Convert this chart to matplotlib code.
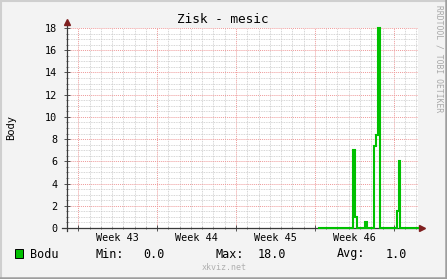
import numpy as np
import matplotlib
matplotlib.use("Agg")
import matplotlib.pyplot as plt
from matplotlib.lines import Line2D
from matplotlib.patches import Rectangle

# data (x in days from left edge of the graph)
t_days = [22.35, 25.38, 25.55, 25.73, 26.44, 26.62, 27.24, 27.42, 27.60, 27.77, 29.28, 29.46, 29.59, 31.15]
bodu = [0.0, 7.0, 1.0, 0.0, 0.5, 0.0, 7.4, 8.4, 18.0, 0.0, 1.5, 6.0, 0.0, 0.0]
week_starts = [1, 8, 15, 22, 29]
week_names = ["Week 43", "Week 44", "Week 45", "Week 46"]
legend_name = "Bodu"
stat_min, stat_max, stat_avg = 0.0, 18.0, 1.0

W, H = 447, 279
MONO = "DejaVu Sans Mono"
BACK = "#f3f3f3"
GREEN = "#00c000"
AXIS = "#3a3a3a"
ARROW = "#7f1f1f"

fig = plt.figure(figsize=(W / 100, H / 100), dpi=100)
fig.patch.set_facecolor(BACK)

# plot area in pixels: x 67..418, y 28..228
ax = fig.add_axes([67 / W, (H - 228) / H, (418 - 67) / W, 200 / H])
ax.set_facecolor("white")
ax.set_xlim(0, 31.15)
ax.set_ylim(0, 18)

ax.set_xticks(week_starts)
ax.set_xticks(np.arange(0, 32), minor=True)
ax.set_xticklabels([])
ax.set_yticks(np.arange(0, 19, 2))
ax.set_yticks(np.arange(0, 18.01, 0.5), minor=True)
ax.set_yticklabels([str(v) for v in range(0, 19, 2)], fontfamily=MONO, fontsize=7.3)

ax.grid(which="minor", color="#c8c8c8", linestyle=(0, (1, 1)), lw=0.6)
ax.grid(which="major", color="#ee9a9a", linestyle=(0, (1, 1)), lw=0.7)
ax.set_axisbelow(True)
ax.tick_params(which="major", direction="inout", length=4, width=0.6, color=AXIS, pad=5)
ax.tick_params(which="minor", direction="inout", length=2, width=0.5, color=AXIS)

for s in ax.spines.values():
    s.set_visible(False)

# axes with arrows
ax.add_line(Line2D([0, 0], [-0.015, 1.02], transform=ax.transAxes, color=AXIS, lw=0.9, clip_on=False))
ax.add_line(Line2D([-0.013, 1.005], [0, 0], transform=ax.transAxes, color=AXIS, lw=0.9, clip_on=False))
ax.plot([0], [1.03], marker="^", ms=4, color=ARROW, transform=ax.transAxes, clip_on=False)
ax.plot([1.012], [0], marker=">", ms=4, color=ARROW, transform=ax.transAxes, clip_on=False)

ax.step(t_days, bodu, where="post", color=GREEN, lw=1.5, solid_joinstyle="miter", clip_on=False, zorder=5)

# week labels centred between week starts
for i, name in enumerate(week_names):
    mid = (week_starts[i] + week_starts[i + 1]) / 2
    ax.text(mid, -0.05, name, transform=ax.get_xaxis_transform(), ha="center", va="center",
            fontfamily=MONO, fontsize=7.3)

fig.text(223 / W, 1 - 19.5 / H, "Zisk - mesic", ha="center", va="center", fontfamily=MONO, fontsize=9.2)
fig.text(11 / W, 1 - 128 / H, "Body", rotation=90, ha="center", va="center", fontfamily=MONO, fontsize=7.5)
fig.text(438.5 / W, 1 - 59 / H, "RRDTOOL / TOBI OETIKER", rotation=270, ha="center", va="center",
         fontfamily=MONO, fontsize=5.8, color="#a8a8a8")

# legend row
ly = 1 - 254 / H
fs = 8.5
fig.patches.append(Rectangle((15 / W, 1 - 258 / H), 8 / W, 9 / H, transform=fig.transFigure,
                             facecolor=GREEN, edgecolor="black", lw=0.7))
fig.text(30 / W, ly, legend_name, va="center", fontfamily=MONO, fontsize=fs)
fig.text(95 / W, ly, "Min:", va="center", fontfamily=MONO, fontsize=fs)
fig.text(165 / W, ly, "%.1f" % stat_min, ha="right", va="center", fontfamily=MONO, fontsize=fs)
fig.text(216 / W, ly, "Max:", va="center", fontfamily=MONO, fontsize=fs)
fig.text(286 / W, ly, "%.1f" % stat_max, ha="right", va="center", fontfamily=MONO, fontsize=fs)
fig.text(337 / W, ly, "Avg:", va="center", fontfamily=MONO, fontsize=fs)
fig.text(407 / W, ly, "%.1f" % stat_avg, ha="right", va="center", fontfamily=MONO, fontsize=fs)
fig.text(224 / W, 1 - 268 / H, "xkviz.net", ha="center", va="center", fontfamily=MONO, fontsize=6, color="#b0b0b0")

# 3d-ish frame around the canvas
fig.add_artist(Line2D([0, 1], [1 - 0.5 / H, 1 - 0.5 / H], transform=fig.transFigure, color="#cfcfcf", lw=1.5))
fig.add_artist(Line2D([0.5 / W, 0.5 / W], [0, 1], transform=fig.transFigure, color="#cfcfcf", lw=1.5))
fig.add_artist(Line2D([0, 1], [0.8 / H, 0.8 / H], transform=fig.transFigure, color="#9e9e9e", lw=1.8))
fig.add_artist(Line2D([1 - 0.8 / W, 1 - 0.8 / W], [0, 1], transform=fig.transFigure, color="#9e9e9e", lw=1.8))

fig.savefig("out.png", dpi=100, facecolor=BACK)
